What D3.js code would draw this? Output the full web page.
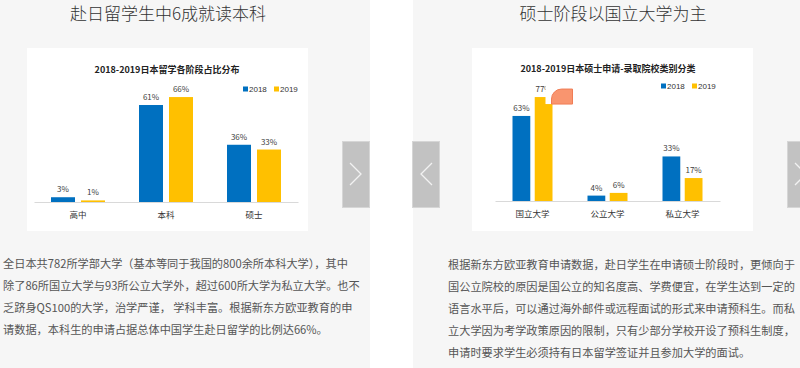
<!DOCTYPE html>
<html>
<head>
<meta charset="utf-8">
<script src="https://cdn.jsdelivr.net/npm/d3@7"></script>
<style>
  body { margin: 0; background: #fff; }
  svg { display: block; font-family: "Noto Sans CJK SC", "Noto Sans", sans-serif; }
</style>
</head>
<body>
<div id="page"></div>
<script>
// Left panel data
const stageCats = ["高中", "本科", "硕士"];
const stage2018 = [3, 61, 36];
const stage2019 = [1, 66, 33];

// Right panel data
const schoolCats = ["国立大学", "公立大学", "私立大学"];
const school2018 = [63, 4, 33];
const school2019 = [77, 6, 17];

const seriesNames = ["2018", "2019"];

const headings = ["赴日留学生中6成就读本科", "硕士阶段以国立大学为主"];
const chartTitles = ["2018-2019日本留学各阶段占比分布", "2018-2019日本硕士申请-录取院校类别分类"];

const leftText = [
  "全日本共782所学部大学（基本等同于我国的800余所本科大学），其中",
  "除了86所国立大学与93所公立大学外，超过600所大学为私立大学。也不",
  "乏跻身QS100的大学，治学严谨， 学科丰富。根据新东方欧亚教育的申",
  "请数据，本科生的申请占据总体中国学生赴日留学的比例达66%。"
];
const rightText = [
  "根据新东方欧亚教育申请数据，赴日学生在申请硕士阶段时，更倾向于",
  "国公立院校的原因是国公立的知名度高、学费便宜，在学生达到一定的",
  "语言水平后，可以通过海外邮件或远程面试的形式来申请预科生。而私",
  "立大学因为考学政策原因的限制，只有少部分学校开设了预科生制度，",
  "申请时要求学生必须持有日本留学签证并且参加大学的面试。"
];

const colours = {"2018": "#0070c0", "2019": "#ffc000"};

const W = 800, H = 368;
const svg = d3.select("#page").append("svg")
  .attr("width", W)
  .attr("height", H);

// gray panels
svg.append("rect").attr("x", 0).attr("y", 0).attr("width", 370).attr("height", H).attr("fill", "#f6f6f6");
svg.append("rect").attr("x", 413).attr("y", 0).attr("width", W - 413).attr("height", H).attr("fill", "#f6f6f6");

// panel headings
svg.selectAll("text.heading")
  .data(headings)
  .join("text")
    .attr("class", "heading")
    .attr("x", (_, i) => [168, 613][i])
    .attr("y", 20)
    .attr("text-anchor", "middle")
    .style("font-size", "17px")
    .style("font-weight", 300)
    .attr("fill", "#333")
    .text(d => d);

function drawChart(opts) {
  const g = svg.append("g");
  // white chart "image"
  g.append("rect")
    .attr("x", opts.box[0]).attr("y", opts.box[1])
    .attr("width", opts.box[2]).attr("height", opts.box[3])
    .attr("fill", "#fff");

  g.append("text")
    .attr("x", opts.titleX).attr("y", opts.titleY)
    .attr("text-anchor", "middle")
    .style("font-size", "9px")
    .style("font-weight", "bold")
    .attr("fill", "#222")
    .text(opts.title);

  const x = d3.scaleBand().domain(opts.cats).range(opts.xRange);
  const half = opts.pairWidth / 2;
  const xs = d3.scaleBand().domain(seriesNames)
    .range([x.bandwidth() / 2 - half, x.bandwidth() / 2 + half])
    .paddingInner(opts.gap);
  const y = d3.scaleLinear().domain([0, 100]).range([opts.base, opts.base - opts.pxPer100]);

  const rows = opts.cats.map((c, i) => ({cat: c, vals: [
    {s: "2018", v: opts.v2018[i]}, {s: "2019", v: opts.v2019[i]}
  ]}));

  const groups = g.selectAll("g.cat")
    .data(rows)
    .join("g")
      .attr("class", "cat")
      .attr("transform", d => `translate(${x(d.cat)},0)`);

  groups.selectAll("rect")
    .data(d => d.vals)
    .join("rect")
      .attr("x", d => xs(d.s))
      .attr("y", d => y(d.v))
      .attr("width", xs.bandwidth())
      .attr("height", d => y(0) - y(d.v))
      .attr("fill", d => colours[d.s]);

  groups.selectAll("text.val")
    .data(d => d.vals)
    .join("text")
      .attr("class", "val")
      .attr("x", d => xs(d.s) + xs.bandwidth() / 2)
      .attr("y", d => y(d.v) - 5)
      .attr("text-anchor", "middle")
      .style("font-size", "8px")
      .attr("fill", "#404040")
      .text(d => d.v + "%");

  // axis line + category labels
  const axis = g.append("g").attr("transform", `translate(0,${opts.base})`)
    .call(d3.axisBottom(x).tickSize(0).tickPadding(10));
  axis.select(".domain").attr("stroke", "#d9d9d9");
  axis.selectAll("text")
    .style("font-size", "8.5px")
    .style("font-family", "'Noto Sans CJK SC', sans-serif")
    .attr("fill", "#333");

  // legend
  const leg = g.selectAll("g.leg")
    .data(seriesNames)
    .join("g")
      .attr("class", "leg")
      .attr("transform", (_, i) => `translate(${opts.legX + i * 31},${opts.legY})`);
  leg.append("rect")
    .attr("x", 0).attr("y", -2.5)
    .attr("width", 5).attr("height", 5)
    .attr("fill", d => colours[d]);
  leg.append("text")
    .attr("x", 6).attr("y", 3)
    .style("font-size", "8px")
    .style("font-family", "'Liberation Sans', Arial, sans-serif")
    .attr("fill", "#333")
    .text(d => d);

  return {x, xs, y, g};
}

drawChart({
  box: [27, 48, 281, 183],
  title: chartTitles[0], titleX: 167, titleY: 73,
  cats: stageCats, v2018: stage2018, v2019: stage2019,
  xRange: [34, 298], pairWidth: 54, gap: 0.2,
  base: 202, pxPer100: 159,
  legX: 243, legY: 89
});

const right = drawChart({
  box: [472, 48, 281, 183],
  title: chartTitles[1], titleX: 608, titleY: 72,
  cats: schoolCats, v2018: school2018, v2019: school2019,
  xRange: [495, 720], pairWidth: 40, gap: 0.2,
  base: 201, pxPer100: 135,
  legX: 661, legY: 86
});

// the little orange marker sitting over the 77% bar in the source picture
const markX = right.x(schoolCats[0]) + right.xs("2019") + right.xs.bandwidth() - 7;
const markY = right.y(school2019[0]) - 12;
right.g.append("rect")
  .attr("x", markX).attr("y", markY)
  .attr("width", 28).attr("height", 19)
  .attr("fill", "#fff");
right.g.append("path")
  .attr("d", `M${markX + 6},${markY + 19} V${markY + 14} A10,10 0 0 1 ${markX + 16},${markY + 4} H${markX + 27} V${markY + 19} Z`)
  .attr("fill", "#f9956f")
  .attr("stroke", "#f07c55")
  .attr("stroke-width", 1);

// paragraphs
function para(lines, x, y0) {
  svg.append("g").selectAll("text")
    .data(lines)
    .join("text")
      .attr("x", x)
      .attr("y", (_, i) => y0 + i * 22)
      .style("font-size", "11.2px")
      .attr("fill", "#555")
      .text(d => d);
}
para(leftText, 3, 268);
para(rightText, 448, 269);

// slider buttons
const buttons = [
  {x: 342, dir: 1},
  {x: 412, dir: -1},
  {x: 787, dir: 1}
];
const btn = svg.append("g").selectAll("g")
  .data(buttons)
  .join("g")
    .attr("transform", d => `translate(${d.x},141)`);
btn.append("rect")
  .attr("x", 0.5).attr("y", 0.5)
  .attr("width", 27).attr("height", 66)
  .attr("fill", "#c2c2c2")
  .attr("stroke", "#d6d6d6");
btn.append("path")
  .attr("d", d => d.dir > 0 ? "M8,22 L19,33 L8,44" : "M20,22 L9,33 L20,44")
  .attr("fill", "none")
  .attr("stroke", "#f2f2f2")
  .attr("stroke-width", 1.3);
</script>
</body>
</html>
